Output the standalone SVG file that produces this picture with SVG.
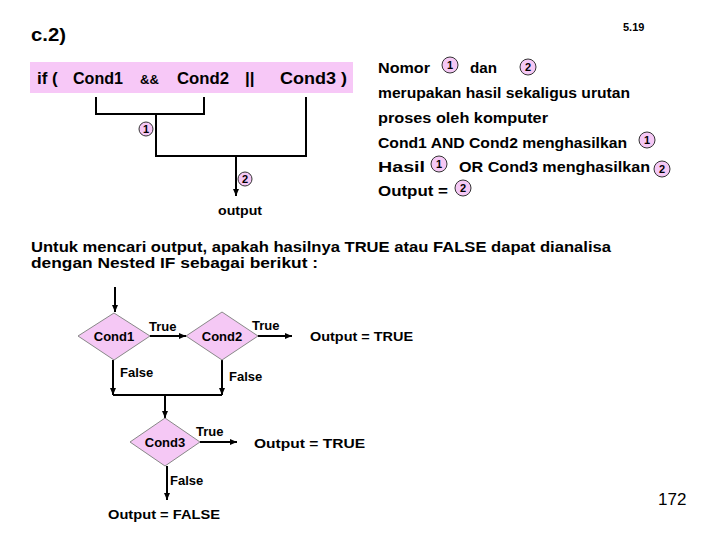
<svg xmlns="http://www.w3.org/2000/svg" width="720" height="540" viewBox="0 0 720 540">
<style>
text{font-family:"Liberation Sans",Arial,sans-serif;font-weight:bold;fill:#000}
.t14{font-size:14px}
.t13{font-size:13px}
.t12{font-size:12px}
.num{font-size:11px;text-anchor:middle}
.ln{stroke:#000;stroke-width:2;fill:none}
.dia{fill:#f5c8f5;stroke:#888;stroke-width:1}
.cir{fill:#f5c8f5;stroke:#333;stroke-width:1}
</style>
<defs>
<marker id="ah" markerWidth="8" markerHeight="8" refX="7" refY="4" orient="auto" markerUnits="userSpaceOnUse">
<path d="M0,1 L7,4 L0,7 Z" fill="#000"/>
</marker>
</defs>
<g id="header">
<text x="31" y="41" style="font-size:18px" textLength="35" lengthAdjust="spacingAndGlyphs">c.2)</text>
<text x="623" y="31" style="font-size:11px">5.19</text>
<text x="658" y="505" style="font-size:17px;font-weight:normal">172</text>
</g>
<g id="if-expr">
<rect x="30" y="62" width="323" height="31" fill="#f7c8f7"/>
<text x="37" y="84" style="font-size:17px">if (</text>
<text x="73" y="84" style="font-size:17px" textLength="50" lengthAdjust="spacingAndGlyphs">Cond1</text>
<text x="140" y="84" style="font-size:13px">&amp;&amp;</text>
<text x="177" y="84" style="font-size:17px" textLength="52" lengthAdjust="spacingAndGlyphs">Cond2</text>
<text x="245" y="84" style="font-size:17px">||</text>
<text x="280" y="84" style="font-size:17px" textLength="67" lengthAdjust="spacingAndGlyphs">Cond3 )</text>
</g>
<g id="tree">
<path class="ln" d="M96,97 V114 H204 V97 M156,114 V156 H306 V97" stroke-width="1.5"/>
<path class="ln" d="M236,156 V196" marker-end="url(#ah)"/>
<circle class="cir" cx="146" cy="129" r="7"/><text class="num" x="146" y="133">1</text>
<circle class="cir" cx="245" cy="179" r="7"/><text class="num" x="245" y="183">2</text>
<text class="t12" x="218" y="215" textLength="44" lengthAdjust="spacingAndGlyphs">output</text>
</g>
<g id="explanation">
<text class="t14" x="378" y="73" textLength="52" lengthAdjust="spacingAndGlyphs">Nomor</text>
<circle class="cir" cx="450" cy="65" r="8"/><text class="num" x="450" y="69">1</text>
<text class="t14" x="470" y="73" textLength="27" lengthAdjust="spacingAndGlyphs">dan</text>
<circle class="cir" cx="528" cy="67" r="8"/><text class="num" x="528" y="71">2</text>
<text class="t14" x="378" y="98" textLength="252" lengthAdjust="spacingAndGlyphs">merupakan hasil sekaligus urutan</text>
<text class="t14" x="378" y="123" textLength="170" lengthAdjust="spacingAndGlyphs">proses oleh komputer</text>
<text class="t14" x="378" y="148" textLength="249" lengthAdjust="spacingAndGlyphs">Cond1 AND Cond2 menghasilkan</text>
<circle class="cir" cx="647" cy="140" r="8"/><text class="num" x="647" y="144">1</text>
<text class="t14" x="378" y="172" textLength="47" lengthAdjust="spacingAndGlyphs">Hasil</text>
<circle class="cir" cx="439" cy="164" r="8"/><text class="num" x="439" y="168">1</text>
<text class="t14" x="459" y="172" textLength="191" lengthAdjust="spacingAndGlyphs">OR Cond3 menghasilkan</text>
<circle class="cir" cx="662" cy="169" r="8"/><text class="num" x="662" y="173">2</text>
<text class="t14" x="378" y="196" textLength="70" lengthAdjust="spacingAndGlyphs">Output =</text>
<circle class="cir" cx="463" cy="188" r="8"/><text class="num" x="463" y="192">2</text>
</g>
<g id="paragraph">
<text class="t14" x="31" y="252" textLength="580" lengthAdjust="spacingAndGlyphs">Untuk mencari output, apakah hasilnya TRUE atau FALSE dapat  dianalisa</text>
<text class="t14" x="31" y="268" textLength="287" lengthAdjust="spacingAndGlyphs">dengan Nested IF  sebagai berikut :</text>
</g>
<g id="connectors">
<path class="ln" d="M115,287 V312" marker-end="url(#ah)"/>
<path class="ln" d="M150,336 H186" marker-end="url(#ah)"/>
<path class="ln" d="M258,336 H292" marker-end="url(#ah)"/>
<path class="ln" d="M113,360 V395" marker-end="url(#ah)"/>
<path class="ln" d="M222,360 V395" marker-end="url(#ah)"/>
<path class="ln" d="M113,395 H222"/>
<path class="ln" d="M165,395 V418" marker-end="url(#ah)"/>
<path class="ln" d="M200,442 H237" marker-end="url(#ah)"/>
<path class="ln" d="M167,466 V500" marker-end="url(#ah)"/>
</g>
<g id="cond1">
<polygon class="dia" points="114,313 150,336 114,360 78,336"/>
<text class="t13" x="114" y="341" text-anchor="middle">Cond1</text>
</g>
<g id="cond2">
<polygon class="dia" points="222,312 258,336 222,360 186,336"/>
<text class="t13" x="222" y="341" text-anchor="middle">Cond2</text>
</g>
<g id="cond3">
<polygon class="dia" points="165,418 200,442 165,466 130,442"/>
<text class="t13" x="165" y="447" text-anchor="middle">Cond3</text>
</g>
<g id="labels">
<text class="t13" x="149" y="331">True</text>
<text class="t13" x="252" y="330">True</text>
<text class="t13" x="310" y="341" textLength="103" lengthAdjust="spacingAndGlyphs">Output = TRUE</text>
<text class="t13" x="120" y="377">False</text>
<text class="t13" x="229" y="381">False</text>
<text class="t13" x="196" y="436">True</text>
<text class="t13" x="254" y="448" textLength="111" lengthAdjust="spacingAndGlyphs">Output =  TRUE</text>
<text class="t13" x="170" y="485">False</text>
<text class="t13" x="108" y="519" textLength="112" lengthAdjust="spacingAndGlyphs">Output = FALSE</text>
</g>
</svg>
